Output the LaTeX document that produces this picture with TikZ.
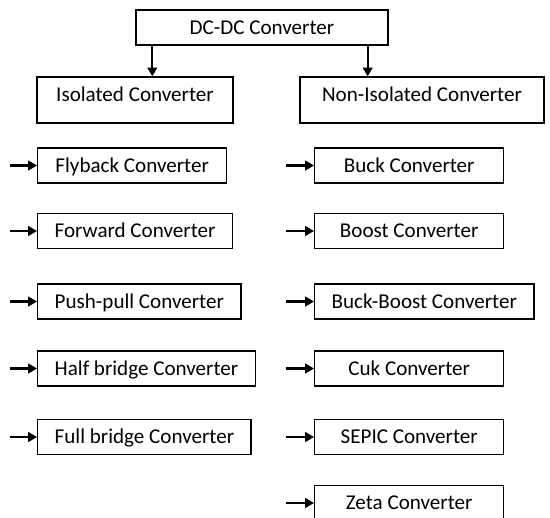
\documentclass[tikz,border=0pt]{standalone}
\usepackage{fontspec}
\setmainfont{Carlito}
\usetikzlibrary{arrows.meta}

\tikzset{
  conv/.style={draw, line width=0.8pt, minimum width=3.78cm, minimum height=0.7cm,
    inner xsep=0.34cm, text height=10pt, text depth=2.3pt, font=\fontsize{12}{14}\selectfont},
  arr/.style={line width=1.2pt, -{Triangle[length=5pt,width=5.5pt]}}
}

\begin{document}
\begin{tikzpicture}[x=0.02cm, y=-0.02cm] % one unit = one pixel
\clip (0,0) rectangle (550,517);

% top level
\node[conv, minimum width=5.04cm] (dcdc) at (262,27.5) {DC-DC Converter};
\node[conv, minimum width=3.92cm, minimum height=0.92cm, text height=9pt, text depth=7pt] (iso) at (135,100) {Isolated Converter};
\node[conv, minimum width=4.88cm, minimum height=0.92cm, text height=9pt, text depth=7pt] (noniso) at (422,100) {Non-Isolated Converter};

\coordinate (isotop) at ([xshift=0.34cm]dcdc.south west);
\coordinate (nonisotop) at ([xshift=-0.42cm]dcdc.south east);
\draw[arr] (isotop) -- (isotop |- iso.north);
\draw[arr] (nonisotop) -- (nonisotop |- noniso.north);

% isolated types
\foreach \y/\lab/\nm in {165.5/Flyback Converter/fly, 231/Forward Converter/fwd,
    301.5/Push-pull Converter/push, 368.5/Half bridge Converter/half, 437/Full bridge Converter/full} {
  \node[conv, anchor=west] (\nm) at (37,\y) {\lab};
  \coordinate (\nm-in) at (10,\y);
  \draw[arr] (\nm-in) -- (\nm);
}

% non-isolated types
\foreach \y/\lab/\nm in {165.5/Buck Converter/buck, 231/Boost Converter/boost,
    301.5/Buck-Boost Converter/buckboost, 368.5/Cuk Converter/cuk, 437/SEPIC Converter/sepic, 503/Zeta Converter/zeta} {
  \node[conv, anchor=west] (\nm) at (314,\y) {\lab};
  \coordinate (\nm-in) at (286,\y);
  \draw[arr] (\nm-in) -- (\nm);
}
\end{tikzpicture}
\end{document}
